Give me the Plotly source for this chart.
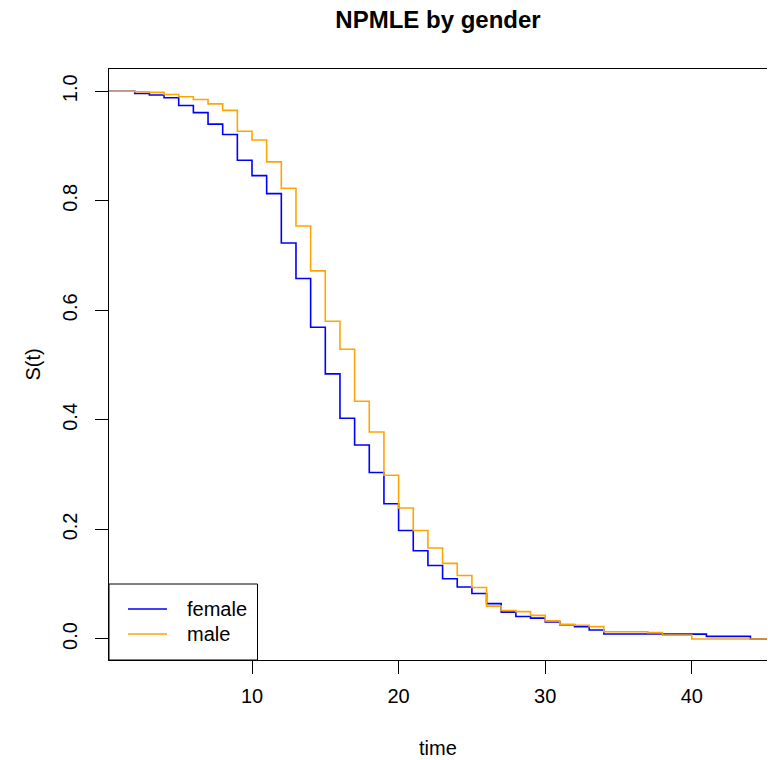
import plotly.graph_objects as go

# Step times (start of each interval)
time = list(range(0, 47))

female_S = [1.0, 1.0, 0.996, 0.993, 0.988, 0.974, 0.961, 0.940, 0.921, 0.874,
            0.846, 0.813, 0.723, 0.658, 0.569, 0.484, 0.403, 0.354, 0.304, 0.247,
            0.198, 0.161, 0.134, 0.110, 0.095, 0.083, 0.0645, 0.049, 0.041, 0.038,
            0.031, 0.026, 0.0225, 0.0165, 0.009, 0.009, 0.009, 0.009, 0.0088, 0.0088,
            0.0088, 0.0048, 0.0048, 0.0048, 0.0, 0.0, 0.0]

male_S = [1.0, 1.0, 0.999, 0.998, 0.994, 0.990, 0.985, 0.977, 0.965, 0.927,
          0.911, 0.871, 0.823, 0.754, 0.672, 0.580, 0.529, 0.434, 0.378, 0.299,
          0.239, 0.198, 0.166, 0.138, 0.116, 0.094, 0.060, 0.052, 0.050, 0.043,
          0.033, 0.027, 0.025, 0.0225, 0.0133, 0.0133, 0.0133, 0.0115, 0.0070, 0.0070,
          0.0, 0.0, 0.0, 0.0, 0.0, 0.0, 0.0]

series_names = ["female", "male"]
series_colors = ["#0000FF", "#FFA500"]

x_ticks = [10, 20, 30, 40]
y_ticks = [0.0, 0.2, 0.4, 0.6, 0.8, 1.0]
y_tick_text = ["0.0", "0.2", "0.4", "0.6", "0.8", "1.0"]

FONT = "Liberation Sans, Arial, Helvetica, sans-serif"

fig = go.Figure()
for name, ys, col in zip(series_names, [female_S, male_S], series_colors):
    fig.add_trace(go.Scatter(x=time, y=ys, mode="lines", line_shape="hv",
                             line=dict(color=col, width=1.6), name=name,
                             showlegend=False, hoverinfo="skip"))

# plot area geometry (px) used for placing the legend box
L, R, T, B = 109, 767, 69, 660
W, H = R - L, B - T


def dx(px):
    return (px - L) / W


def dy(py):
    return (B - py) / H


shapes = [dict(type="rect", xref="x domain", yref="y domain",
               x0=0, x1=dx(257.5), y0=0, y1=dy(584),
               line=dict(color="black", width=1), fillcolor="rgba(0,0,0,0)")]
annotations = [
    dict(text="time", xref="paper", yref="paper", x=0.5, y=0, yshift=-88,
         showarrow=False, xanchor="center", yanchor="middle",
         font=dict(family=FONT, size=20, color="black")),
    dict(text="S(t)", xref="paper", yref="paper", x=0, y=0.5, xshift=-77,
         showarrow=False, xanchor="center", yanchor="middle", textangle=-90,
         font=dict(family=FONT, size=20, color="black")),
]
for i, (name, col) in enumerate(zip(series_names, series_colors)):
    ypx = 609 + 25 * i
    shapes.append(dict(type="line", xref="x domain", yref="y domain",
                       x0=dx(128), x1=dx(167), y0=dy(ypx), y1=dy(ypx),
                       line=dict(color=col, width=1.4)))
    annotations.append(dict(text=name, xref="x domain", yref="y domain",
                            x=dx(185), y=dy(ypx), xanchor="left", yanchor="middle",
                            showarrow=False,
                            font=dict(family=FONT, size=20, color="black")))

fig.update_layout(
    width=768, height=760, autosize=False,
    margin=dict(l=L, r=768 - R, t=T, b=760 - B, pad=0),
    paper_bgcolor="white", plot_bgcolor="white",
    font=dict(family=FONT, size=20, color="black"),
    title=dict(text="<b>NPMLE by gender</b>", x=0.5, xref="paper", xanchor="center",
               y=1 - 20 / 760, yref="container", yanchor="middle",
               font=dict(family=FONT, size=24, color="black")),
    showlegend=False,
    hovermode=False,
    shapes=shapes,
    annotations=annotations,
)

fig.update_xaxes(range=[0.245, 45.13], tickmode="array", tickvals=x_ticks,
                 ticks="outside", ticklen=13, tickcolor="black", tickwidth=1,
                 showline=True, linecolor="black", linewidth=1, mirror=True,
                 showgrid=False, zeroline=False, ticklabelstandoff=5)
fig.update_yaxes(range=[-0.0384, 1.0406], tickmode="array", tickvals=y_ticks,
                 ticktext=y_tick_text, tickangle=-90,
                 ticks="outside", ticklen=13, tickcolor="black", tickwidth=1,
                 showline=True, linecolor="black", linewidth=1, mirror=False,
                 showgrid=False, zeroline=False, ticklabelstandoff=10)

fig.write_html("out.html",
               config={"displayModeBar": False, "staticPlot": True},
               post_script="document.body.style.margin='0';"
                           "document.body.style.overflow='hidden';")
